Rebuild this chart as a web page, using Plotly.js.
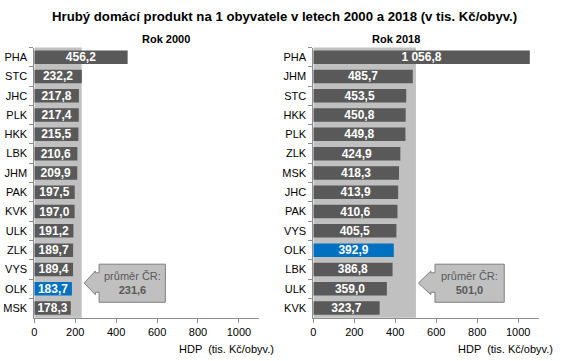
<!DOCTYPE html>
<html>
<head>
<meta charset="utf-8">
<script src="https://cdn.plot.ly/plotly-3.0.1.min.js"></script>
<style>html,body{margin:0;padding:0;background:#fff}</style>
</head>
<body>
<div id="chart" style="width:570px;height:361px"></div>
<script>
// Data
const regions2000 = ["PHA","STC","JHC","PLK","HKK","LBK","JHM","PAK","KVK","ULK","ZLK","VYS","OLK","MSK"];
const values2000  = [456.2,232.2,217.8,217.4,215.5,210.6,209.9,197.5,197.0,191.2,189.7,189.4,183.7,178.3];
const regions2018 = ["PHA","JHM","STC","HKK","PLK","ZLK","MSK","JHC","PAK","VYS","OLK","LBK","ULK","KVK"];
const values2018  = [1056.8,485.7,453.5,450.8,449.8,424.9,418.3,413.9,410.6,405.5,392.9,386.8,359.0,323.7];
const avg2000 = 231.6;
const avg2018 = 501.0;
const highlight = "OLK";
const xTicks = [0,200,400,600,800,1000];

const FONT = "Liberation Sans, Arial, sans-serif";
const DARK = "#595959", BLUE = "#0070C0", SHADE = "#C0C0C0";
const Y0 = 0.12, Y1 = 1 - 47.5/361;

function fmt(v){
  let s = v.toFixed(1).replace('.', ',');
  const parts = s.split(',');
  parts[0] = parts[0].replace(/\B(?=(\d{3})+(?!\d))/g, ' ');
  return parts.join(',');
}

function barTrace(cats, vals, xa, ya){
  return {
    type:'bar', orientation:'h', x: vals, y: cats, xaxis:xa, yaxis:ya,
    marker:{color: cats.map(c => c===highlight ? BLUE : DARK)},
    text: vals.map(fmt), textposition:'inside', insidetextanchor:'middle',
    textfont:{color:'#ffffff', family:FONT, size:12, weight:'bold'},
    constraintext:'none', hoverinfo:'none', showlegend:false
  };
}

const data = [
  barTrace(regions2000, values2000, 'x', 'y'),
  barTrace(regions2018, values2018, 'x2', 'y2')
];

function xaxis(dom){
  return {domain:dom, range:[0,1100], tickvals:xTicks, ticktext:xTicks.map(String),
    showgrid:false, zeroline:false, showline:true, linecolor:'#8c8c8c', linewidth:1,
    ticks:'outside', ticklen:4, tickcolor:'#8c8c8c',
    tickfont:{family:FONT, size:11, color:'#000'}, fixedrange:true};
}
function yaxis(cats, anchor){
  return {domain:[Y0,Y1], anchor:anchor, type:'category', categoryorder:'array', categoryarray:cats,
    autorange:'reversed', showgrid:false, zeroline:false, showline:true, linecolor:'#8c8c8c',
    ticks:'outside', ticklen:4, tickcolor:'#8c8c8c', tickson:'boundaries',
    tickfont:{family:FONT, size:11, color:'#000'}, ticklabelstandoff:4, fixedrange:true};
}

function callout(avg, xa, ya, boxOff, boxW){
  const xr = xa, yr = ya + ' domain';
  const tip = avg + 12;
  const headBack = tip + boxOff*0.75;
  const bl = tip + boxOff;
  const br = bl + boxW;
  const top = 0.198, bot = 0.057, ty = 0.128;
  const hTop = 0.173, hBot = 0.085, sTop = 0.166, sBot = 0.094;
  const path = `M ${bl},${top} L ${br},${top} L ${br},${bot} L ${bl},${bot} L ${bl},${sBot} L ${headBack},${sBot} L ${headBack},${hBot} L ${tip},${ty} L ${headBack},${hTop} L ${headBack},${sTop} L ${bl},${sTop} Z`;
  return {
    shapes:[
      {type:'rect', xref:xr, yref:yr, x0:0, x1:avg, y0:0, y1:1, fillcolor:SHADE, line:{width:0}, layer:'below'},
      {type:'path', xref:xr, yref:yr, path:path, fillcolor:SHADE, line:{color:'#7f7f7f', width:1}, layer:'above'}
    ],
    ann:{xref:xr, yref:'paper', x:(bl+br)/2, y:Y0 + (Y1-Y0)*(top+bot)/2, yanchor:'middle', showarrow:false,
      text:'průměr ČR:<br><b>'+fmt(avg)+'</b>', align:'center',
      font:{family:FONT, size:11, color:DARK}}
  };
}

const c1 = callout(avg2000, 'x', 'y', 73, 324);
const c2 = callout(avg2018, 'x2', 'y2', 81, 338);

const layout = {
  width:570, height:361, margin:{l:0,r:0,t:0,b:0},
  paper_bgcolor:'#fff', plot_bgcolor:'rgba(0,0,0,0)',
  bargap:0.3,
  font:{family:FONT, size:11, color:'#000'},
  xaxis: xaxis([0.0602,0.455]),
  yaxis: yaxis(regions2000, 'x'),
  xaxis2: Object.assign(xaxis([0.5497,0.945]), {anchor:'y2'}),
  yaxis2: yaxis(regions2018, 'x2'),
  shapes: c1.shapes.concat(c2.shapes),
  annotations:[
    c1.ann, c2.ann,
    {xref:'paper', yref:'paper', x:284.7/570, y:1-16/361, yanchor:'middle', showarrow:false,
      text:'<b>Hrubý domácí produkt na 1 obyvatele v letech 2000 a 2018 (v tis. Kč/obyv.)</b>',
      font:{family:FONT, size:13.2, color:'#000'}},
    {xref:'paper', yref:'paper', x:140.3/570, y:1-39/361, yanchor:'middle', showarrow:false,
      text:'<b>Rok 2000</b>', font:{family:FONT, size:11, color:'#000'}},
    {xref:'paper', yref:'paper', x:421.8/570, y:1-39/361, yanchor:'middle', showarrow:false,
      text:'<b>Rok 2018</b>', font:{family:FONT, size:11, color:'#000'}},
    {xref:'paper', yref:'paper', x:276/570, y:1-349/361, xanchor:'right', yanchor:'middle', showarrow:false,
      text:'HDP  (tis. Kč/obyv.)', font:{family:FONT, size:11, color:'#000'}},
    {xref:'paper', yref:'paper', x:555/570, y:1-349/361, xanchor:'right', yanchor:'middle', showarrow:false,
      text:'HDP  (tis. Kč/obyv.)', font:{family:FONT, size:11, color:'#000'}}
  ]
};

Plotly.newPlot('chart', data, layout, {staticPlot:true, displayModeBar:false});
</script>
</body>
</html>
